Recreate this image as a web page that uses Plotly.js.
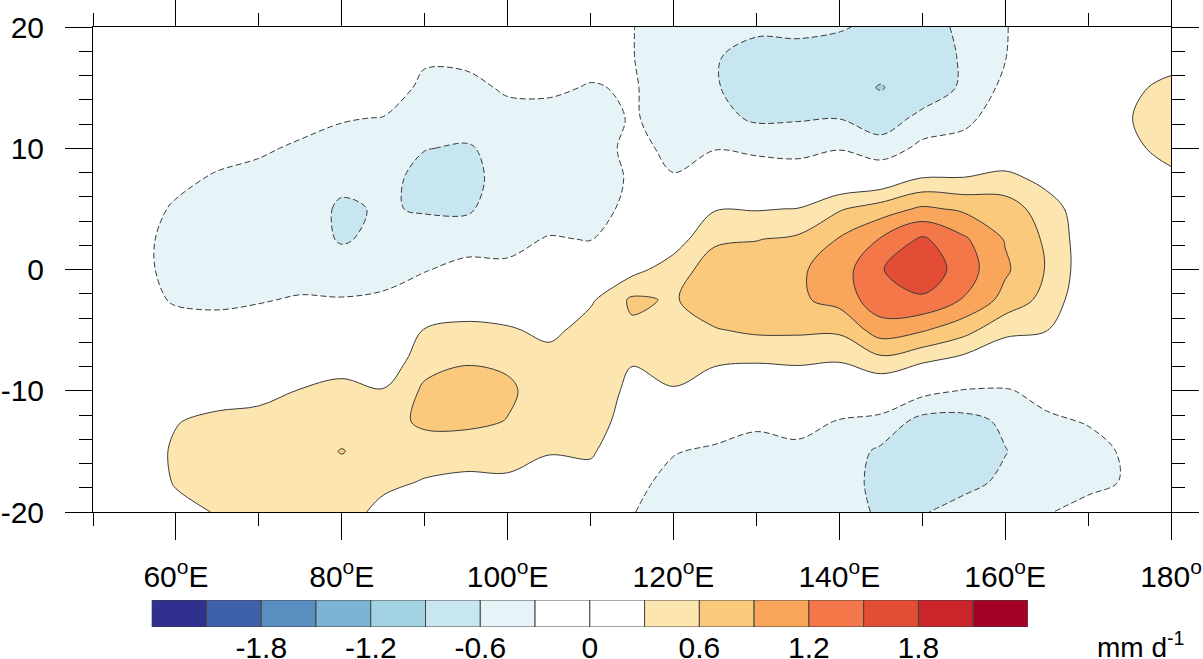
<!DOCTYPE html>
<html><head><meta charset="utf-8">
<script src="https://cdn.plot.ly/plotly-3.0.1.min.js"></script>
<style>html,body{margin:0;padding:0;background:#fff}#chart{width:1203px;height:659px}</style>
</head><body><div id="chart"></div>
<script>
// grid: longitudes (5 deg) and latitudes (2.5 deg, north to south)
const lons = [50,55,60,65,70,75,80,85,90,95,100,105,110,115,120,125,130,135,140,145,150,155,160,165,170,175,180];
const lats = [20,17.5,15,12.5,10,7.5,5,2.5,0,-2.5,-5,-7.5,-10,-12.5,-15,-17.5,-20];

// anomaly values (mm/day), one array per longitude, lat 20N -> 20S
const c50  = [0, 0, 0, 0, 0, -0.05, -0.1, -0.12, -0.12, -0.1, -0.05, 0, 0.05, 0.05, 0.08, 0.08, 0.05];
const c55  = [0, 0, 0, 0, -0.05, -0.08, -0.12, -0.15, -0.15, -0.12, -0.05, 0, 0.05, 0.08, 0.05, 0.05, 0.05];
const c60  = [0, 0, 0, -0.05, -0.12, -0.2, -0.35, -0.45, -0.45, -0.35, -0.1, 0, 0.05, 0.28, 0.36, 0.33, 0.2];
const c65  = [0, 0, 0, -0.05, -0.15, -0.35, -0.45, -0.5, -0.5, -0.4, -0.1, 0, 0.1, 0.4, 0.5, 0.45, 0.32];
const c70  = [0, 0, -0.05, -0.1, -0.25, -0.4, -0.5, -0.5, -0.5, -0.33, -0.1, 0, 0.15, 0.45, 0.5, 0.5, 0.45];
const c75  = [0, 0, -0.05, -0.18, -0.35, -0.45, -0.5, -0.5, -0.5, -0.26, -0.05, 0, 0.32, 0.45, 0.5, 0.5, 0.5];
const c80  = [0, 0, -0.1, -0.28, -0.4, -0.55, -0.63, -0.62, -0.5, -0.28, -0.05, 0.15, 0.4, 0.5, 0.61, 0.5, 0.45];
const c85  = [0, 0, -0.1, -0.31, -0.45, -0.5, -0.58, -0.55, -0.42, -0.25, 0, 0.05, 0.32, 0.48, 0.5, 0.38, 0.2];
const c90  = [0, -0.25, -0.38, -0.5, -0.59, -0.7, -0.62, -0.5, -0.32, -0.1, 0.32, 0.5, 0.65, 0.66, 0.45, 0.28, 0.1];
const c95  = [0, -0.22, -0.4, -0.45, -0.63, -0.68, -0.64, -0.45, -0.2, 0.1, 0.38, 0.58, 0.7, 0.68, 0.4, 0.25, 0.1];
const c100 = [0, -0.1, -0.25, -0.42, -0.5, -0.5, -0.45, -0.38, -0.25, 0, 0.35, 0.55, 0.65, 0.59, 0.42, 0.25, 0.1];
const c105 = [0, -0.1, -0.25, -0.4, -0.55, -0.5, -0.45, -0.28, -0.1, 0.1, 0.2, 0.45, 0.45, 0.45, 0.32, 0.15, 0.05];
const c110 = [0, -0.2, -0.32, -0.45, -0.48, -0.5, -0.45, -0.31, -0.15, 0.25, 0.45, 0.5, 0.5, 0.45, 0.35, 0.15, 0.05];
const c115 = [-0.29, -0.29, -0.27, -0.27, -0.2, -0.25, -0.2, 0, 0.2, 0.65, 0.55, 0.32, 0.22, 0.15, 0, -0.2, -0.28];
const c120 = [-0.45, -0.45, -0.45, -0.42, -0.38, -0.28, -0.1, 0.15, 0.45, 0.57, 0.5, 0.42, 0.28, 0, -0.28, -0.4, -0.5];
const c125 = [-0.55, -0.58, -0.58, -0.5, -0.31, -0.15, 0.28, 0.55, 0.75, 0.78, 0.58, 0.35, 0.1, -0.1, -0.36, -0.45, -0.5];
const c130 = [-0.55, -0.7, -0.72, -0.65, -0.35, -0.15, 0.28, 0.59, 0.75, 0.8, 0.65, 0.33, 0, -0.22, -0.45, -0.5, -0.5];
const c135 = [-0.55, -0.68, -0.72, -0.63, -0.38, -0.15, 0.31, 0.65, 0.85, 0.85, 0.65, 0.35, 0.05, -0.15, -0.4, -0.5, -0.55];
const c140 = [-0.58, -0.7, -0.75, -0.61, -0.32, 0, 0.57, 0.92, 1.05, 1.0, 0.65, 0.32, 0, -0.32, -0.45, -0.45, -0.45];
const c145 = [-0.65, -0.75, -0.92, -0.7, -0.52, 0.05, 0.75, 1.22, 1.48, 1.4, 1.05, 0.51, 0.03, -0.4, -0.65, -0.7, -0.65];
const c150 = [-0.7, -0.75, -0.72, -0.55, -0.2, 0.32, 0.95, 1.55, 1.72, 1.45, 0.93, 0.35, -0.2, -0.7, -0.8, -0.75, -0.62];
const c155 = [-0.55, -0.57, -0.57, -0.4, -0.15, 0.32, 0.85, 1.25, 1.35, 1.18, 0.71, 0.2, -0.32, -0.7, -0.78, -0.68, -0.5];
const c160 = [-0.32, -0.31, -0.22, -0.1, 0, 0.4, 0.75, 0.88, 0.95, 0.8, 0.38, 0.05, -0.33, -0.55, -0.61, -0.55, -0.4];
const c165 = [-0.05, -0.05, 0, 0, 0.05, 0.2, 0.45, 0.55, 0.58, 0.5, 0.31, 0, -0.2, -0.35, -0.45, -0.42, -0.32];
const c170 = [0.05, 0.15, 0.2, 0.2, 0.15, 0.1, 0.1, 0.1, 0.1, 0.05, 0, -0.05, -0.15, -0.28, -0.4, -0.38, -0.2];
const c175 = [0.05, 0.15, 0.22, 0.28, 0.2, 0.1, 0.05, 0.05, 0.05, 0, 0, -0.05, -0.1, -0.15, -0.25, -0.27, -0.1];
const c180 = [0.05, 0.15, 0.4, 0.55, 0.45, 0.2, 0.05, 0, 0, 0, 0, 0, -0.05, -0.1, -0.1, -0.1, -0.05];

// contour levels and label bar colours (16 boxes)
const levelStart = -2.1, levelEnd = 2.1, levelStep = 0.3;
const levelColors = ['#30318F','#3F60AA','#5A8EC0','#7DB3D4','#A3D3E3','#C8E6EF','#E6F4F8','#FFFFFF',
                     '#FFFFFF','#FDE5B0','#FBC97B','#FAA55C','#F4774A','#E34C35','#C9252A','#A50026'];
const barTickVals = [2,4,6,8,10,12,14];
const barTickText = ['-1.8','-1.2','-0.6','0','0.6','1.2','1.8'];

const xTickVals = [60,80,100,120,140,160,180];
const xTickText = ['60<sup>o</sup>E','80<sup>o</sup>E','100<sup>o</sup>E','120<sup>o</sup>E','140<sup>o</sup>E','160<sup>o</sup>E','180<sup>o</sup>'];
const yTickVals = [-20,-10,0,10,20];
const yTickText = ['-20','-10','0','10','20'];

const cols = [c50,c55,c60,c65,c70,c75,c80,c85,c90,c95,c100,c105,c110,c115,c120,c125,c130,c135,c140,c145,c150,c155,c160,c165,c170,c175,c180];
const z = lats.map((_, i) => cols.map(c => c[i]));
const nBands = levelColors.length - 1;
const colorscale = levelColors.map((c, k) => [k / nBands, c]);

const fillTrace = {
  type: 'contour', x: lons, y: lats, z: z,
  autocontour: false,
  contours: {start: levelStart, end: levelEnd, size: levelStep, coloring: 'fill', showlines: false},
  colorscale: colorscale, showscale: false, line: {width: 0}, hoverinfo: 'skip'
};
const negLines = {
  type: 'contour', x: lons, y: lats, z: z,
  autocontour: false,
  contours: {start: levelStart, end: -levelStep, size: levelStep, coloring: 'none'},
  line: {color: '#3a3a3a', width: 1, dash: '6px,3px'}, showscale: false, hoverinfo: 'skip'
};
const posLines = {
  type: 'contour', x: lons, y: lats, z: z,
  autocontour: false,
  contours: {start: levelStep, end: levelEnd, size: levelStep, coloring: 'none'},
  line: {color: '#3a3a3a', width: 1}, showscale: false, hoverinfo: 'skip'
};
const barTrace = {
  type: 'bar', x: levelColors.map((_, k) => k + 0.5), y: levelColors.map(() => 1),
  width: 1, marker: {color: levelColors, line: {color: '#444', width: 1}},
  xaxis: 'x2', yaxis: 'y2', hoverinfo: 'skip', showlegend: false
};

const font = 'Liberation Sans, Arial, Helvetica, sans-serif';
const tickCommon = {ticks: 'outside', ticklen: 27, tickwidth: 1, tickcolor: '#000', showline: true,
  linecolor: '#000', linewidth: 1, mirror: 'ticks', showgrid: false, zeroline: false, automargin: false,
  tickfont: {family: font, size: 30, color: '#000'}};

const layout = {
  width: 1203, height: 659,
  margin: {l: 93, r: 32, t: 27, b: 0},
  paper_bgcolor: '#fff', plot_bgcolor: '#fff',
  font: {family: font, size: 30, color: '#000'},
  showlegend: false, bargap: 0,
  xaxis: Object.assign({}, tickCommon, {
    domain: [0, 1], range: [50, 180], tickmode: 'array', tickvals: xTickVals, ticktext: xTickText,
    ticklabelstandoff: 11,
    minor: {tick0: 50, dtick: 10, ticks: 'outside', ticklen: 13, tickwidth: 1, tickcolor: '#000', showgrid: false}
  }),
  yaxis: Object.assign({}, tickCommon, {
    domain: [0.2326, 1], range: [-20, 20], tickmode: 'array', tickvals: yTickVals, ticktext: yTickText,
    ticklabelstandoff: 15,
    minor: {tick0: 0, dtick: 2, ticks: 'outside', ticklen: 13, tickwidth: 1, tickcolor: '#000', showgrid: false}
  }),
  xaxis2: {domain: [0.05445, 0.8673], anchor: 'y2', range: [0, 16], tickmode: 'array',
    tickvals: barTickVals, ticktext: barTickText, ticks: '', showline: false, showgrid: false,
    zeroline: false, automargin: false, ticklabelstandoff: 0,
    tickfont: {family: font, size: 30, color: '#000'}},
  yaxis2: {domain: [0.0506, 0.0934], anchor: 'x2', range: [0, 1], visible: false},
  annotations: [{text: 'mm d<sup>-1</sup>', xref: 'paper', yref: 'paper', x: 0.972, y: 0.022,
    showarrow: false, xanchor: 'center', yanchor: 'middle', font: {family: font, size: 28, color: '#000'}}]
};

Plotly.newPlot('chart', [fillTrace, negLines, posLines, barTrace], layout, {displayModeBar: false, staticPlot: true});
</script>
</body></html>
